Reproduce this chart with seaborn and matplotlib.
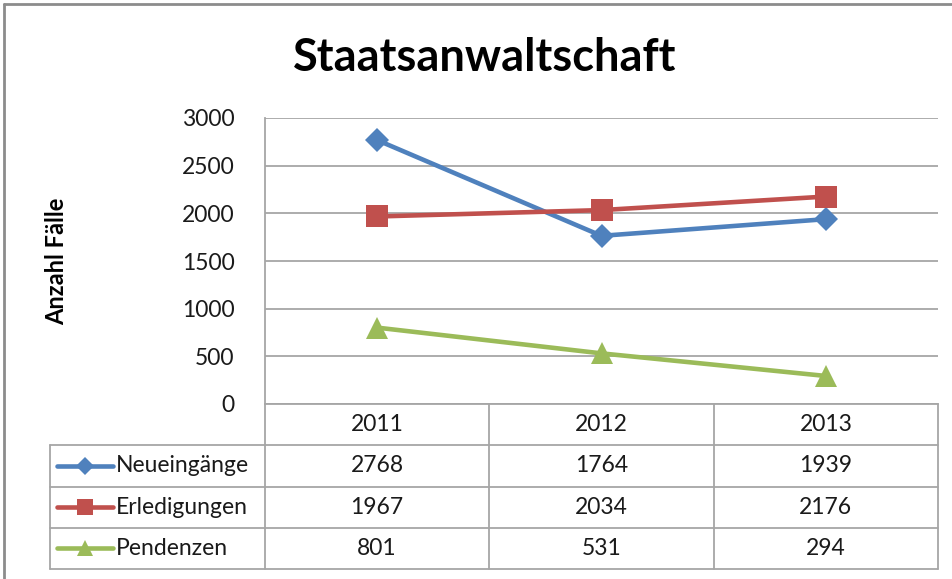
import matplotlib
matplotlib.use("Agg")
import matplotlib.pyplot as plt
import seaborn as sns
import pandas as pd

years = ["2011", "2012", "2013"]
series_names = ["Neueingänge", "Erledigungen", "Pendenzen"]
neueingaenge = [2768, 1764, 1939]
erledigungen = [1967, 2034, 2176]
pendenzen = [801, 531, 294]
yticks = [0, 500, 1000, 1500, 2000, 2500, 3000]
title = "Staatsanwaltschaft"
ylabel = "Anzahl Fälle"

colors = {"Neueingänge": "#4F81BD", "Erledigungen": "#C0504D", "Pendenzen": "#9BBB59"}
markers = {"Neueingänge": "D", "Erledigungen": "s", "Pendenzen": "^"}
msizes = {"Neueingänge": 12.5, "Erledigungen": 16, "Pendenzen": 16.5}
legend_msizes = {"Neueingänge": 9, "Erledigungen": 12, "Pendenzen": 12}

values = {"Neueingänge": neueingaenge, "Erledigungen": erledigungen, "Pendenzen": pendenzen}
df = pd.DataFrame([
    {"Jahr": y, "Serie": s, "Wert": v}
    for s in series_names for y, v in zip(years, values[s])
])

sns.set_theme(style="white")
plt.rcParams["font.family"] = ["Lato", "DejaVu Sans"]

W, H = 952, 579
fig = plt.figure(figsize=(W / 100, H / 100), dpi=100)

def fx(px):
    return px / W

def fy(py):
    return 1 - py / H

GRID = "#A6A6A6"
TXT = "#1a1a1a"
ax_left, ax_right, ax_top, ax_bottom = 265, 938, 118, 404
ax = fig.add_axes([fx(ax_left), fy(ax_bottom), fx(ax_right - ax_left), fy(ax_top) - fy(ax_bottom)])

for s in series_names:
    sub = df[df["Serie"] == s]
    sns.lineplot(data=sub, x="Jahr", y="Wert", ax=ax, color=colors[s], linewidth=3.3,
                 marker=markers[s], markersize=msizes[s], markeredgewidth=0,
                 markeredgecolor=colors[s], sort=False, legend=False)

ax.set_xlim(-0.5, 2.5)
ax.set_ylim(0, 3000)
ax.set_yticks(yticks)
ax.set_yticklabels([str(t) for t in yticks], fontsize=16.5, color=TXT)
ax.tick_params(axis="y", length=0, pad=22)
ax.set_xticks([])
ax.set_xlabel("")
ax.set_ylabel("")
ax.yaxis.grid(True, color=GRID, linewidth=1.3)
ax.set_axisbelow(True)
for side in ["top", "right"]:
    ax.spines[side].set_visible(False)
for side in ["left", "bottom"]:
    ax.spines[side].set_color(GRID)
    ax.spines[side].set_linewidth(1.3)
ax.patch.set_alpha(0)

# data table
t_left, t_top, t_bottom = 50, 404, 569
tax = fig.add_axes([fx(t_left), fy(t_bottom), fx(ax_right - t_left), fy(t_top) - fy(t_bottom)])
unit_px = (ax_right - ax_left) / 3.0
x0 = -0.5 - (ax_left - t_left) / unit_px
tax.set_xlim(x0, 2.5)
tax.set_ylim(4, 0)
tax.axis("off")

lw = 1.3
for xv in [-0.5, 0.5, 1.5, 2.5]:
    tax.plot([xv, xv], [0, 4], color=GRID, linewidth=lw, clip_on=False)
tax.plot([x0, x0], [1, 4], color=GRID, linewidth=lw, clip_on=False)
for yv in [1, 2, 3, 4]:
    tax.plot([x0, 2.5], [yv, yv], color=GRID, linewidth=lw, clip_on=False)

for i, y in enumerate(years):
    tax.text(i, 0.5, y, ha="center", va="center", fontsize=16.5, color=TXT)

for r, s in enumerate(series_names, start=1):
    ls_x0 = x0 + 7 / unit_px
    ls_x1 = x0 + 63 / unit_px
    tax.plot([ls_x0, ls_x1], [r + 0.5, r + 0.5], color=colors[s], linewidth=3.3,
             solid_capstyle="round", clip_on=False)
    tax.plot([(ls_x0 + ls_x1) / 2], [r + 0.5], marker=markers[s], color=colors[s],
             markersize=legend_msizes[s], markeredgewidth=0, clip_on=False)
    tax.text(x0 + 66 / unit_px, r + 0.5, s, ha="left", va="center", fontsize=16.5, color=TXT)
    for i, v in enumerate(values[s]):
        tax.text(i, r + 0.5, str(v), ha="center", va="center", fontsize=16.5, color=TXT)

fig.text(fx(485), fy(58), title, ha="center", va="center", fontsize=32.5, fontweight="bold", color="black")
fig.text(fx(57), fy(261), ylabel, ha="center", va="center", rotation=90, fontsize=17,
         fontweight="bold", color="black")

# outer chart border (top and left edges visible)
fig.add_artist(plt.Line2D([fx(4), fx(W)], [fy(4), fy(4)], transform=fig.transFigure,
                          color="#8C8C8C", linewidth=2))
fig.add_artist(plt.Line2D([fx(4), fx(4)], [fy(4), fy(H)], transform=fig.transFigure,
                          color="#8C8C8C", linewidth=2))

fig.savefig("out.png", dpi=100)
